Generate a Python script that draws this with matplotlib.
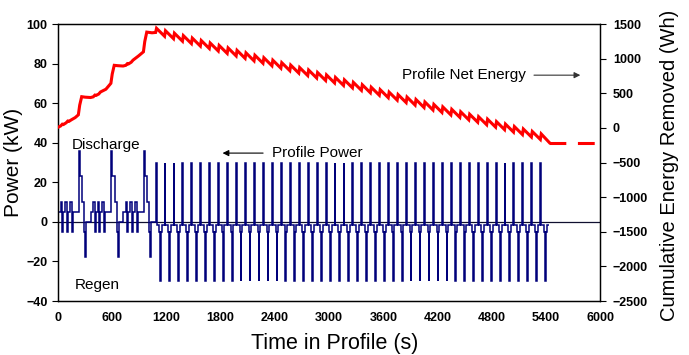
import matplotlib
matplotlib.use("Agg")
import matplotlib.pyplot as plt
import numpy as np

plt.rcParams['font.family'] = ['Liberation Sans', 'DejaVu Sans']

# start of the profile: three discharge-heavy sequences, one step = (kW, s)
start_kw = [5, 10, -5, 5, 10, -5, 5, 10, -5, 5, 36, 23, 10, -5, -17.5, 0]
start_sec = [30, 18, 11, 22, 18, 11, 22, 18, 11, 66, 15, 26, 22, 11, 11, 48]
start_reps = 3

# main part: repeated pulse cycle
cycle_kw = [30, -1.5, -5, -30, -5, -1.5]
cycle_sec = [10, 31, 10, 8, 10, 30]
cycle_reps = 44

# profile net energy (Wh) over the start sequences
net_start_t = [0, 30, 48, 60, 90, 108, 120, 150, 190, 225, 240, 262, 300, 360,
               390, 408, 420, 450, 470, 530, 585, 600, 622, 660, 720,
               750, 768, 780, 810, 830, 890, 945, 960, 982, 1040]
net_start_wh = [10, 30, 55, 50, 75, 100, 95, 120, 150, 190, 330, 452, 445, 440,
                450, 475, 470, 490, 520, 560, 645, 780, 905, 900, 895,
                905, 930, 925, 950, 980, 1040, 1100, 1250, 1385, 1375]

# net energy per pulse cycle: low point before the pulse and peak after it
net_cycle_low = [1380, 1325, 1290, 1254, 1219, 1183, 1148, 1112, 1077, 1041, 1006,
                 970, 935, 899, 864, 828, 793, 757, 722, 686, 651, 615, 580, 544,
                 509, 473, 438, 402, 367, 331, 296, 260, 225, 189, 154, 118, 83,
                 47, 12, -24, -59, -95, -130, -166, -210]
net_cycle_peak = [1440, 1405, 1369, 1334, 1298, 1263, 1227, 1192, 1156, 1121, 1085,
                  1050, 1014, 979, 943, 908, 872, 837, 801, 766, 730, 695, 659, 624,
                  588, 553, 517, 482, 446, 411, 375, 340, 304, 269, 233, 198, 162,
                  127, 91, 56, 20, -15, -51, -86]

x_ticks = list(range(0, 6001, 600))
kw_ticks = list(range(-40, 101, 20))
wh_ticks = list(range(-2500, 1501, 500))

navy = '#00007a'
red = '#ff0000'

# power steps
kw = start_kw * start_reps + cycle_kw * cycle_reps
sec = start_sec * start_reps + cycle_sec * cycle_reps
edges = np.concatenate([[0], np.cumsum(sec)])

cycle0 = sum(start_sec) * start_reps
period = sum(cycle_sec)
t_end = cycle0 + cycle_reps * period

# net energy line: quick rise on the pulse, then a steady fall
t_red = list(net_start_t)
e_red = list(net_start_wh)
for k in range(cycle_reps):
    t0 = cycle0 + k * period
    t_red += [t0, t0 + cycle_sec[0]]
    e_red += [net_cycle_low[k], net_cycle_peak[k]]
t_red.append(t_end)
e_red.append(net_cycle_low[-1])

fig = plt.figure(figsize=(6.89, 3.55), dpi=100)
ax = fig.add_axes([0.0842, 0.152, 0.787, 0.780])

ax.axhline(0, color='#101030', lw=0.9, zorder=1)
ax.stairs(kw, edges, baseline=None, color=navy, lw=1.1, zorder=2)

ax.set_xlim(0, 6000)
ax.set_ylim(-40, 100)
ax.set_xticks(x_ticks)
ax.set_yticks(kw_ticks)
ax.tick_params(axis='x', length=0, pad=8)
ax.tick_params(axis='y', direction='out', length=4, width=0.8)
for lab in ax.get_xticklabels() + ax.get_yticklabels():
    lab.set_fontweight('bold')
    lab.set_fontsize(9)
ax.set_xlabel('Time in Profile (s)', fontsize=15.5)
ax.xaxis.set_label_coords(0.51, -0.115)
ax.set_ylabel('Power (kW)', fontsize=15, labelpad=2)

ax2 = ax.twinx()
ax2.plot(t_red, e_red, color=red, lw=2.2, solid_joinstyle='miter', zorder=3)
ax2.plot([t_end, 6000], [net_cycle_low[-1]] * 2, color=red, lw=2.2,
         linestyle=(0, (5.5, 3.8)), zorder=3)
ax2.set_ylim(-2500, 1500)
ax2.set_yticks(wh_ticks)
ax2.tick_params(axis='y', direction='out', length=4, width=0.8, pad=5)
for lab in ax2.get_yticklabels():
    lab.set_fontweight('bold')
    lab.set_fontsize(9)
ax2.set_ylabel('Cumulative Energy Removed (Wh)', fontsize=14.5)
ax2.yaxis.set_label_coords(1.11, 0.49)

for a in (ax, ax2):
    for s in a.spines.values():
        s.set_linewidth(0.9)

ax.text(155, 39, 'Discharge', fontsize=11, ha='left', va='center')
ax.text(190, -32, 'Regen', fontsize=11, ha='left', va='center')
ax.text(2370, 34.6, 'Profile Power', fontsize=11, ha='left', va='center')
ax.annotate('', xy=(1790, 34.8), xytext=(2300, 34.8),
            arrowprops=dict(arrowstyle='-|>', color='black', lw=0.8, mutation_scale=9))
ax.text(3808, 74.2, 'Profile Net Energy', fontsize=11, ha='left', va='center')
ax.annotate('', xy=(5810, 74.2), xytext=(5236, 74.2),
            arrowprops=dict(arrowstyle='-|>', color='#333333', lw=0.8, mutation_scale=9))

fig.savefig('out.png', dpi=100)
